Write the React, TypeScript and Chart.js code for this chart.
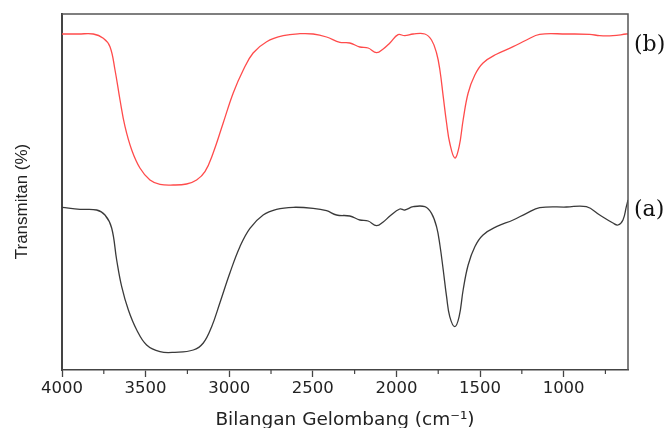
import { useEffect, useRef } from "react";
import { Chart, registerables } from "chart.js";

Chart.register(...registerables);

// Spectrum (b) – upper, red
const waveB = [4000, 3900, 3813, 3753, 3713, 3683, 3653, 3623, 3583, 3534, 3474, 3414, 3335, 3255, 3195, 3145, 3096, 3036, 2976, 2916, 2857, 2776, 2677, 2577, 2498, 2418, 2338, 2279, 2219, 2169, 2119, 2079, 2039, 1990, 1950, 1900, 1830, 1790, 1760, 1740, 1720, 1700, 1681, 1651, 1625, 1601, 1571, 1531, 1482, 1402, 1302, 1222, 1143, 983, 844, 784, 705, 625, 615];
const transB = [336, 336, 336, 331.7, 323.3, 300, 270, 243.3, 220, 202, 190, 185.7, 185, 186, 190, 198.3, 217, 247, 277, 300, 317, 328.3, 334.3, 336.3, 336, 333, 327.7, 327, 323, 322, 317.3, 321, 327, 335.3, 334.3, 336, 336, 330, 317, 300, 273.3, 247, 227, 212, 223.3, 250, 277, 295, 307, 315.7, 323.3, 330, 335.7, 336, 335.7, 334.3, 334.3, 336, 336];

// Spectrum (a) – lower, black
const waveA = [4000, 3892, 3793, 3743, 3703, 3673, 3643, 3603, 3553, 3494, 3414, 3325, 3215, 3155, 3105, 3056, 2996, 2936, 2876, 2797, 2717, 2617, 2498, 2418, 2358, 2279, 2219, 2169, 2119, 2079, 2039, 1980, 1950, 1900, 1830, 1790, 1760, 1740, 1720, 1700, 1681, 1651, 1625, 1601, 1571, 1531, 1482, 1402, 1302, 1222, 1143, 983, 864, 784, 705, 675, 645, 625, 615];
const transA = [162.7, 160.7, 160, 155, 142, 110, 83.3, 60, 40, 25, 18.3, 17.7, 20, 27, 43.3, 67, 97, 123.3, 141.7, 155, 160.7, 162.7, 161.7, 159.3, 155, 154, 150, 149, 144.3, 148, 154, 161, 160, 163.3, 163.3, 156.7, 143.3, 125, 100, 73.3, 53.3, 43.3, 53.3, 80, 105, 123.3, 135, 143.3, 150, 156.7, 162.3, 163, 163.3, 155, 147, 145, 150, 163.3, 170];

const xMajorTicks = [4000, 3500, 3000, 2500, 2000, 1500, 1000];
const xMinorTicks = [3750, 3250, 2750, 2250, 1750, 1250, 750];
const seriesLabels = ["(b)", "(a)"];
const labelAnchors = [325, 160];
const xTitle = "Bilangan Gelombang (cm\u207B\u00B9)";
const yTitle = "Transmitan (%)";

const decorPlugin = {
  id: "decor",
  afterDraw(chart: any) {
    const { ctx, chartArea: ca, scales } = chart;
    const xs = scales.x;
    const ys = scales.y;
    ctx.save();
    ctx.strokeStyle = "#555";
    ctx.lineWidth = 1.5;
    ctx.beginPath();
    ctx.moveTo(ca.left, ca.top);
    ctx.lineTo(ca.right, ca.top);
    ctx.lineTo(ca.right, ca.bottom);
    ctx.stroke();
    ctx.strokeStyle = "#444";
    ctx.lineWidth = 1.2;
    xMinorTicks.forEach((v) => {
      const px = xs.getPixelForValue(v);
      ctx.beginPath();
      ctx.moveTo(px, ca.bottom);
      ctx.lineTo(px, ca.bottom + 4);
      ctx.stroke();
    });
    ctx.fillStyle = "#222";
    ctx.textAlign = "center";
    ctx.textBaseline = "middle";
    ctx.font = '18.5px "DejaVu Sans"';
    ctx.fillText(xTitle, (ca.left + ca.right) / 2, ca.bottom + 50);
    ctx.save();
    ctx.translate(22.5, (ca.top + ca.bottom) / 2 + 9.5);
    ctx.rotate(-Math.PI / 2);
    ctx.font = '17px "Liberation Sans"';
    ctx.fillText(yTitle, 0, 0);
    ctx.restore();
    ctx.fillStyle = "#111";
    ctx.textAlign = "left";
    ctx.font = '22px "DejaVu Serif"';
    seriesLabels.forEach((t, i) => {
      ctx.fillText(t, ca.right + 6, ys.getPixelForValue(labelAnchors[i]));
    });
    ctx.restore();
  },
};

export default function App() {
  const ref = useRef<HTMLCanvasElement | null>(null);
  useEffect(() => {
    if (!ref.current) return;
    const chart = new Chart(ref.current, {
      type: "line",
      data: {
        datasets: [
          {
            label: "(b)",
            data: waveB.map((w, i) => ({ x: w, y: transB[i] })),
            borderColor: "rgb(255,75,75)",
            borderWidth: 1.3,
            pointRadius: 0,
            tension: 0.4,
            fill: false,
          },
          {
            label: "(a)",
            data: waveA.map((w, i) => ({ x: w, y: transA[i] })),
            borderColor: "#3a3a3a",
            borderWidth: 1.3,
            pointRadius: 0,
            tension: 0.4,
            fill: false,
          },
        ],
      },
      options: {
        animation: false,
        responsive: true,
        maintainAspectRatio: false,
        layout: { padding: { left: 62, top: 14, right: 41, bottom: 0 } },
        plugins: { legend: { display: false }, tooltip: { enabled: false } },
        scales: {
          x: {
            type: "linear",
            reverse: true,
            min: 615,
            max: 4000,
            afterBuildTicks: (s: any) => {
              s.ticks = xMajorTicks.map((v) => ({ value: v }));
            },
            afterFit: (s: any) => {
              s.height = 58;
            },
            grid: {
              display: true,
              drawOnChartArea: false,
              drawTicks: true,
              tickLength: 7,
              tickColor: "#444",
              tickWidth: 1.3,
            },
            border: { display: true, color: "#444", width: 1.6 },
            ticks: {
              color: "#222",
              font: { family: "DejaVu Sans", size: 16.5 },
              padding: 2,
              maxRotation: 0,
              autoSkip: false,
              callback: (v: any) => String(v),
            },
          },
          y: {
            min: 0,
            max: 356,
            afterFit: (s: any) => {
              s.width = 0;
            },
            grid: { display: false, drawTicks: false },
            border: { display: true, color: "#444", width: 2 },
            ticks: { display: false },
          },
        },
      },
      plugins: [decorPlugin],
    });
    return () => chart.destroy();
  }, []);
  return (
    <div style={{ position: "absolute", left: 0, top: 0, width: 669, height: 428, background: "#fff" }}>
      <canvas ref={ref} />
    </div>
  );
}
